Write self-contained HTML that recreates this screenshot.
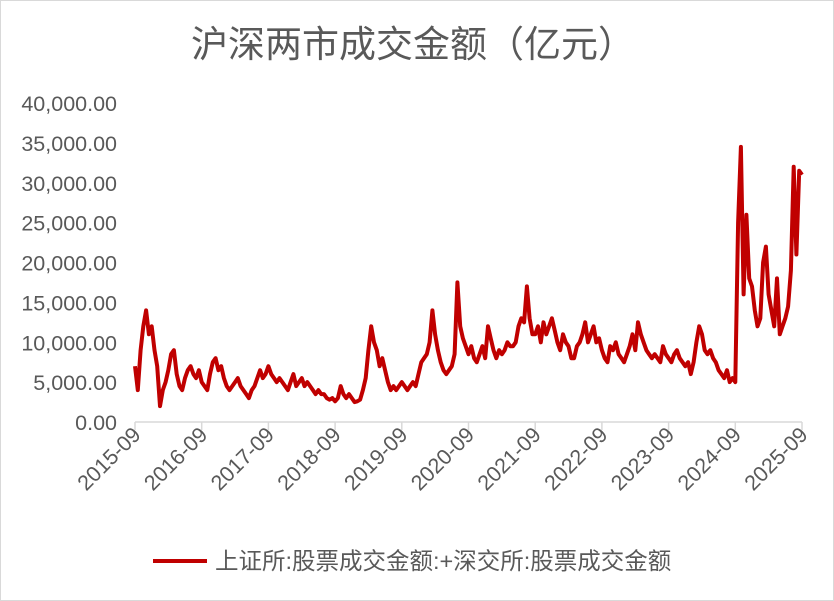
<!DOCTYPE html>
<html><head><meta charset="utf-8"><style>
body{margin:0;background:#fff}
#wrap{position:relative;width:834px;height:601px;box-sizing:border-box;border:1px solid #d9d9d9;background:#fff;font-family:"Liberation Sans","Noto Sans CJK SC",sans-serif}
</style></head><body>
<div id="wrap">
<svg id="chart" width="834" height="601" style="position:absolute;left:-1px;top:-1px">
<text x="413" y="57" text-anchor="middle" font-size="37" fill="#595959" font-family="Liberation Sans, Noto Sans CJK SC, sans-serif">沪深两市成交金额（亿元）</text>
<g id="yaxis"></g>
<g id="xaxis"></g>
<g id="series"></g>
<g>
<line x1="153" y1="561" x2="207" y2="561" stroke="#c00000" stroke-width="4"/>
<text x="215" y="569" font-size="23.5" fill="#595959" font-family="Liberation Sans, Noto Sans CJK SC, sans-serif">上证所:股票成交金额:+深交所:股票成交金额</text>
</g>
</svg>
</div>
<script>
const yTicks=[0,5000,10000,15000,20000,25000,30000,35000,40000];
const yTickLabels=["0.00","5,000.00","10,000.00","15,000.00","20,000.00","25,000.00","30,000.00","35,000.00","40,000.00"];
const xTickLabels=["2015-09","2016-09","2017-09","2018-09","2019-09","2020-09","2021-09","2022-09","2023-09","2024-09","2025-09"];
// semi-monthly turnover values (亿元), from 2015-09
const turnover=[
7000,4000,9000,12000,14000,11000,12000,9000,7000,2000,4000,5000,6500,8500,9000,6000,4500,4000,5500,6500,7000,6000,5500,6500,
5000,4500,4000,6000,7500,8000,6500,7000,5500,4500,4000,4500,5000,5500,4500,4000,3500,3000,4000,4500,5500,6500,5500,6000,
7000,6000,5500,5000,5500,5000,4500,4000,5000,6000,4500,5000,5500,4500,5000,4500,4000,3500,4000,3500,3500,3000,2800,3000,
2600,3000,4500,3500,3000,3500,3000,2500,2600,2800,4000,5500,9000,12000,10000,9000,7000,8000,6500,5000,4000,4500,4000,4500,
5000,4500,4000,4500,5000,4500,6000,7500,8000,8500,10000,14000,11000,9000,7500,6500,6000,6500,7000,8500,17500,12000,10500,9500,
8500,9500,8000,7500,8500,9500,8000,12000,10500,9000,8000,9000,8500,9000,10000,9500,9500,10000,12000,13000,12500,17000,13000,11000,
11000,12000,10000,12500,11000,12000,13000,11500,10000,9000,11000,10000,9500,8000,8000,9500,10000,11000,12500,10000,11000,12000,10000,10500,
9000,8000,7500,9500,9000,10000,8500,8000,7500,8500,9500,11000,9000,12500,11000,10000,9000,8500,8000,8500,8000,7500,9500,8500,
8000,7500,8500,9000,8000,7500,7000,7500,6000,7500,10000,12000,11000,9000,8500,9000,8000,7500,6500,6000,5500,6500,5000,5500,
5000,25000,34500,16000,26000,18000,17000,14000,12000,13000,20000,22000,16000,14000,12000,18000,11000,12000,13000,14500,19000,32000,21000,31500,
31000
];
const NS="http://www.w3.org/2000/svg";
const X0=135,X1=802,Y0=422,Y1=103;
const nPeriods=240;
function xScale(i){return X0+(X1-X0)*i/nPeriods;}
function yScale(v){return Y0-(Y0-Y1)*v/40000;}
function mk(tag,attrs,parent){const e=document.createElementNS(NS,tag);for(const k in attrs)e.setAttribute(k,attrs[k]);parent.appendChild(e);return e;}
const yg=document.getElementById('yaxis');
yTicks.forEach((v,i)=>{
  const t=mk('text',{x:117,y:yScale(v)+8,'text-anchor':'end','font-size':21.5,fill:'#595959'},yg);
  
  
  t.textContent=yTickLabels[i];
});
const xg=document.getElementById('xaxis');
const ax=mk('line',{x1:X0,y1:Y0,x2:X1,y2:Y0,stroke:'#d9d9d9','stroke-width':1.5},xg);


xTickLabels.forEach((lab,i)=>{
  const x=xScale(i*24);
  const tk=mk('line',{x1:x,y1:Y0,x2:x,y2:Y0+8,stroke:'#d9d9d9','stroke-width':1.5},xg);
  
  
  const t=mk('text',{x:x+7,y:Y0+14,'text-anchor':'end','font-size':21.5,fill:'#595959',transform:`rotate(-45 ${x+7} ${Y0+14})`},xg);
  
  
  t.textContent=lab;
});
const sg=document.getElementById('series');
const pts=turnover.map((v,i)=>xScale(i).toFixed(1)+','+yScale(v).toFixed(1)).join(' ');
const pl=mk('polyline',{points:pts,fill:'none',stroke:'#c00000','stroke-width':4,'stroke-linejoin':'round'},sg);


</script>
</body></html>
